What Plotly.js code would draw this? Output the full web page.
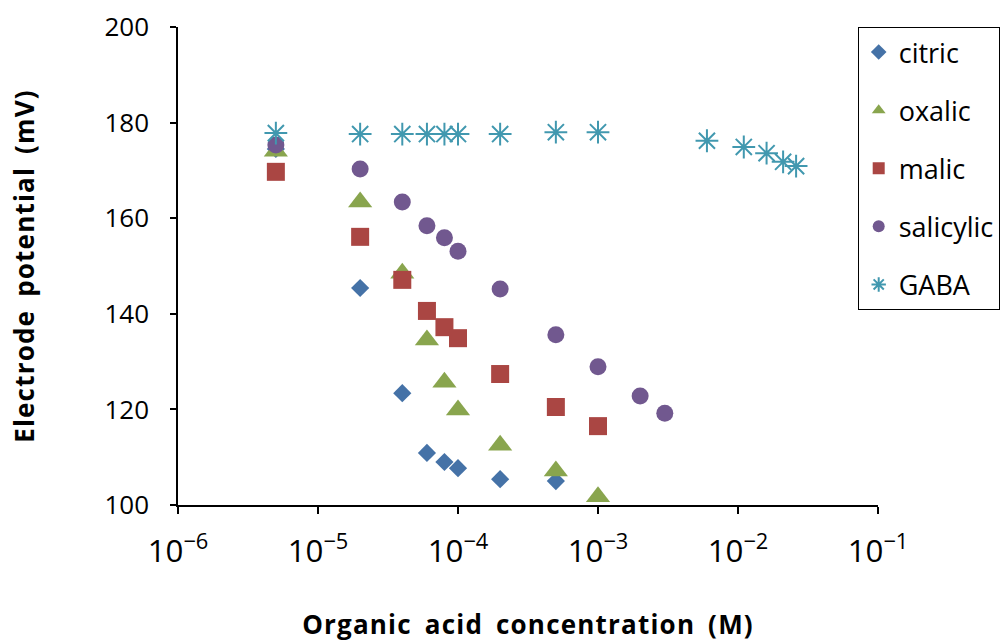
<!DOCTYPE html>
<html>
<head>
<meta charset="utf-8">
<script src="https://cdn.plot.ly/plotly-3.0.1.min.js"></script>
<style>
body{margin:0;padding:0;background:#fff;}
#chart{width:1008px;height:642px;}
.xtitle, .ytitle {letter-spacing: 1.2px; word-spacing: 5px;}
</style>
</head>
<body>
<div id="chart"></div>
<script>
const citricX = [5e-6, 2e-5, 4e-5, 6e-5, 8e-5, 1e-4, 2e-4, 5e-4];
const citricY = [174.5, 145.4, 123.4, 110.9, 109.0, 107.7, 105.4, 105.0];

const oxalicX = [5e-6, 2e-5, 4e-5, 6e-5, 8e-5, 1e-4, 2e-4, 5e-4, 1e-3];
const oxalicY = [174.0, 163.4, 148.5, 134.5, 125.7, 119.9, 112.5, 107.1, 101.7];

const malicX = [5e-6, 2e-5, 4e-5, 6e-5, 8e-5, 1e-4, 2e-4, 5e-4, 1e-3];
const malicY = [169.7, 156.1, 147.1, 140.6, 137.2, 134.9, 127.4, 120.5, 116.5];

const salicylicX = [5e-6, 2e-5, 4e-5, 6e-5, 8e-5, 1e-4, 2e-4, 5e-4, 1e-3, 2e-3, 3e-3];
const salicylicY = [175.3, 170.3, 163.4, 158.4, 155.9, 153.1, 145.2, 135.6, 128.9, 122.8, 119.2];

const gabaX = [5e-6, 2e-5, 4e-5, 6e-5, 8e-5, 1e-4, 2e-4, 5e-4, 1e-3, 6e-3, 1.1e-2, 1.6e-2, 2.1e-2, 2.6e-2];
const gabaY = [177.8, 177.6, 177.6, 177.6, 177.6, 177.6, 177.6, 178.0, 178.0, 176.2, 174.9, 173.6, 171.8, 170.9];

const FONT = "Open Sans, Liberation Sans, Arial, sans-serif";

function tr(name, x, y, symbol, color, size, group, extra) {
  const m = {symbol: symbol, color: color, size: size, line: {width: 0}};
  if (extra) Object.assign(m, extra);
  return {type: 'scatter', mode: 'markers', name: name, x: x, y: y,
          marker: m, legendgroup: group};
}

const data = [
  tr('citric', citricX, citricY, 'diamond', '#4572A7', 14, 'g1'),
  tr('oxalic', oxalicX, oxalicY, 'triangle-up', '#89A54E', 21, 'g2'),
  tr('malic', malicX, malicY, 'square', '#AA4643', 18, 'g3'),
  tr('salicylic', salicylicX, salicylicY, 'circle', '#71588F', 17, 'g4'),
  tr('GABA', gabaX, gabaY, 'asterisk-open', '#4198AF', 19, 'g5', {line: {width: 2, color: '#4198AF'}})
];

const layout = {
  width: 1008, height: 642,
  margin: {l: 178, r: 130, t: 27, b: 137, autoexpand: false},
  paper_bgcolor: '#ffffff', plot_bgcolor: '#ffffff',
  font: {family: FONT, size: 25, color: '#000'},
  showlegend: true,
  xaxis: {
    type: 'log', range: [-6, -1], dtick: 1,
    exponentformat: 'power',
    showgrid: false, zeroline: false,
    showline: true, linecolor: '#000', linewidth: 1.5,
    ticks: 'outside', ticklen: 7, tickcolor: '#000', tickwidth: 1.5,
    ticklabelstandoff: 12,
    tickfont: {family: FONT, size: 25},
    title: {text: 'Organic acid concentration (M)', font: {family: FONT, size: 26, weight: 'bold'}, standoff: 54},
    automargin: false
  },
  yaxis: {
    range: [100, 200], dtick: 20,
    showgrid: false, zeroline: false,
    showline: true, linecolor: '#000', linewidth: 1.5,
    ticks: 'outside', ticklen: 6, tickcolor: '#000', tickwidth: 1.5,
    ticklabelstandoff: 16,
    tickfont: {family: FONT, size: 26},
    title: {text: 'Electrode potential (mV)', font: {family: FONT, size: 26, weight: 'bold'}, standoff: 62},
    automargin: false
  },
  legend: {
    x: 0.971, xanchor: 'left', y: 1.0, yanchor: 'top',
    bordercolor: '#000', borderwidth: 1, bgcolor: '#fff',
    font: {family: FONT, size: 27},
    tracegroupgap: 20,
    itemsizing: 'constant'
  }
};

Plotly.newPlot('chart', data, layout, {displayModeBar: false});
</script>
</body>
</html>
